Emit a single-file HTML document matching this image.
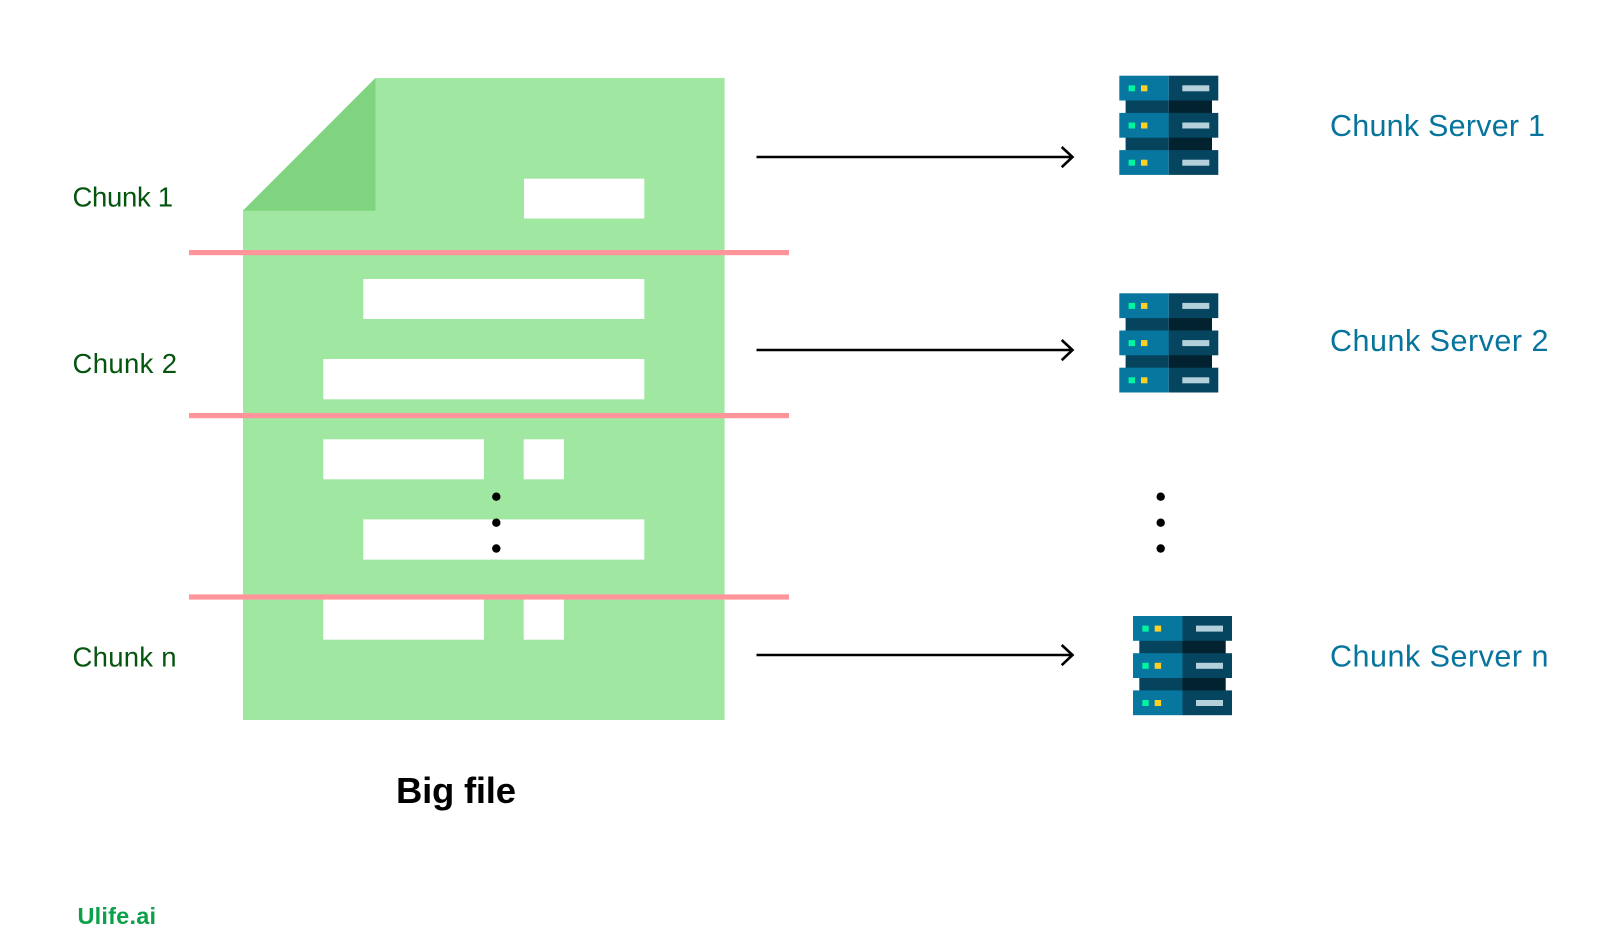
<!DOCTYPE html>
<html>
<head>
<meta charset="utf-8">
<style>
html,body{margin:0;padding:0;background:#fff;width:1600px;height:952px;overflow:hidden}
svg{display:block}
text{font-family:"Liberation Sans",sans-serif}
</style>
</head>
<body>
<svg width="1600" height="952" viewBox="0 0 1600 952" xmlns="http://www.w3.org/2000/svg">
<defs>
<g id="srv">
<rect x="6.3" y="24" width="43.2" height="51" fill="#06445e"/>
<rect x="49.5" y="24" width="43.2" height="51" fill="#03222f"/>
<g id="row">
<rect x="0" y="0" width="49.5" height="24.8" fill="#07779f"/>
<rect x="49.5" y="0" width="49.5" height="24.8" fill="#05455f"/>
<rect x="9.3" y="9.6" width="6.4" height="6" fill="#00f5a0"/>
<rect x="21.7" y="9.6" width="6.4" height="6" fill="#ffd024"/>
<rect x="63" y="9.6" width="27" height="6" fill="#b4d0db"/>
</g>
<use href="#row" y="37.2"/>
<use href="#row" y="74.4"/>
</g>
</defs>

<polygon points="375.5,78 724.6,78 724.6,720 243,720 243,210.5" fill="#a0e7a2"/>
<polygon points="375.5,78 375.5,210.7 243,210.7" fill="#80d480"/>

<g fill="#fff">
<rect x="524" y="178.7" width="120.3" height="39.8"/>
<rect x="363.3" y="279" width="281" height="40"/>
<rect x="323.3" y="359" width="321" height="40.3"/>
<rect x="323.3" y="439.3" width="160.7" height="40"/>
<rect x="523.7" y="439.3" width="40.3" height="40"/>
<rect x="363.3" y="519.4" width="281" height="40.2"/>
<rect x="323.3" y="599" width="160.7" height="40.7"/>
<rect x="523.7" y="599" width="40.3" height="40.7"/>
</g>

<g fill="#ff959b">
<rect x="189" y="250" width="600" height="5.2"/>
<rect x="189" y="413" width="600" height="5.2"/>
<rect x="189" y="594.4" width="600" height="5.2"/>
</g>

<g fill="#000">
<circle cx="496.3" cy="496.7" r="4.2"/>
<circle cx="496.3" cy="522.7" r="4.2"/>
<circle cx="496.3" cy="548.5" r="4.2"/>
<circle cx="1160.7" cy="496.7" r="4.2"/>
<circle cx="1160.7" cy="522.7" r="4.2"/>
<circle cx="1160.7" cy="548.5" r="4.2"/>
</g>

<g fill="none" stroke="#000" stroke-width="2.6">
<path d="M756.5 157H1072M1061.7 147L1072.5 157L1061.7 167.2"/>
<path d="M756.5 350H1072M1061.7 340L1072.5 350L1061.7 360.2"/>
<path d="M756.5 655H1072M1061.7 645L1072.5 655L1061.7 665.2"/>
</g>

<use href="#srv" x="1119.3" y="75.7"/>
<use href="#srv" x="1119.3" y="293.3"/>
<use href="#srv" x="1133" y="616"/>

<g fill="#05550f" font-size="27.5">
<text x="72.5" y="206.7" textLength="100.5">Chunk 1</text>
<text x="72.5" y="373" textLength="104.5">Chunk 2</text>
<text x="72.5" y="666.7" textLength="104">Chunk n</text>
</g>

<g fill="#06749c" font-size="30.5">
<text x="1330" y="135.8" textLength="215">Chunk Server 1</text>
<text x="1330" y="351" textLength="218.5">Chunk Server 2</text>
<text x="1330" y="666.3" textLength="218.5">Chunk Server n</text>
</g>

<text x="396" y="803" font-size="36.5" font-weight="700" fill="#000" textLength="120">Big file</text>
<text x="77.5" y="924" font-size="23.5" font-weight="700" fill="#0ba14a" textLength="78.5">Ulife.ai</text>
</svg>
</body>
</html>
